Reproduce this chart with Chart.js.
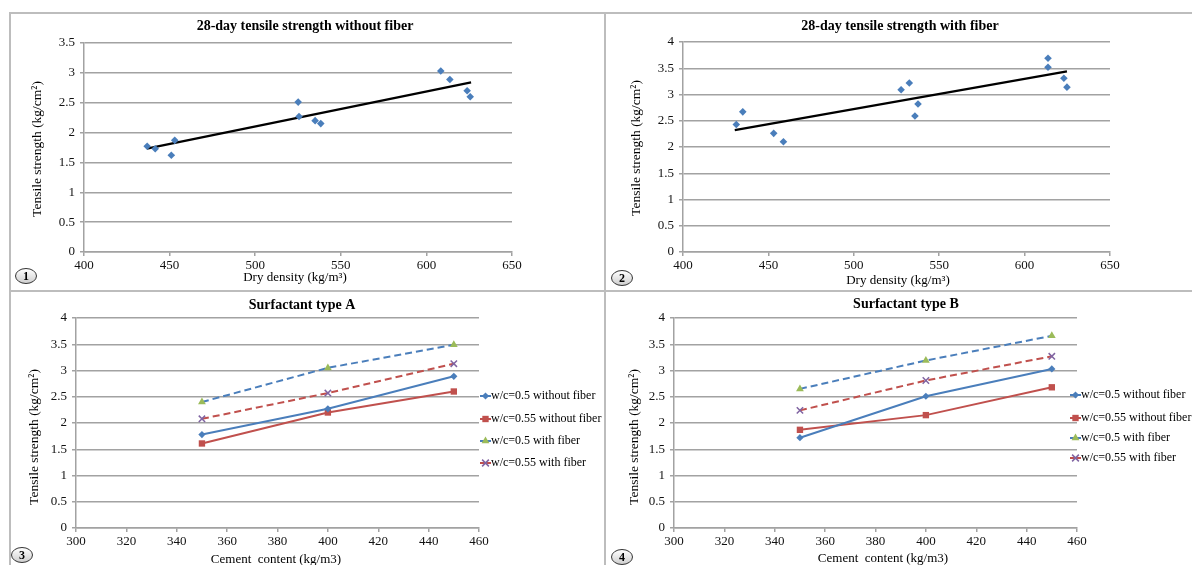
<!DOCTYPE html>
<html>
<head>
<meta charset="utf-8">
<script src="https://cdn.jsdelivr.net/npm/chart.js@4.4.1/dist/chart.umd.min.js"></script>
<style>
  html, body { margin: 0; padding: 0; background: #fff; }
  #page { position: relative; width: 1192px; height: 565px; overflow: hidden; background: #fff; }
  canvas { position: absolute; }
  .rule { position: absolute; background: #bdbdbd; }
</style>
</head>
<body>
<div id="page">
  <canvas id="c1" width="595" height="278" style="left:10px;top:13px"></canvas>
  <canvas id="c2" width="587" height="278" style="left:605px;top:13px"></canvas>
  <canvas id="c3" width="595" height="274" style="left:10px;top:291px"></canvas>
  <canvas id="c4" width="587" height="274" style="left:605px;top:291px"></canvas>
  <div class="rule" style="left:9px;top:12px;width:1183px;height:2px"></div>
  <div class="rule" style="left:9px;top:12px;width:2px;height:553px"></div>
  <div class="rule" style="left:604px;top:12px;width:2px;height:553px"></div>
  <div class="rule" style="left:9px;top:290px;width:1183px;height:2px"></div>
</div>
<script>
// Panels 1-2: 28-day tensile strength vs dry density
const densityNoFiber = [436.9, 441.6, 451.0, 453.0, 525.1, 525.6, 535.0, 538.3, 608.4, 613.7, 623.8, 625.6];
const strengthNoFiber = [1.77, 1.73, 1.62, 1.87, 2.51, 2.27, 2.20, 2.15, 3.03, 2.89, 2.70, 2.60];
const trendNoFiberX = [436.7, 626.1];
const trendNoFiberY = [1.73, 2.84];

const densityFiber = [431.2, 435.0, 453.1, 458.8, 527.7, 532.5, 537.6, 535.8, 613.7, 613.7, 623.0, 624.8];
const strengthFiber = [2.43, 2.67, 2.26, 2.10, 3.09, 3.22, 2.82, 2.59, 3.69, 3.52, 3.31, 3.14];
const trendFiberX = [430.3, 624.8];
const trendFiberY = [2.32, 3.44];

// Panels 3-4: tensile strength vs cement content
const cementContent = [350, 400, 450];
const seriesNames = ['w/c=0.5 without fiber', 'w/c=0.55 without fiber', 'w/c=0.5 with fiber', 'w/c=0.55 with fiber'];
const typeA_05 = [1.78, 2.27, 2.89];
const typeA_055 = [1.61, 2.20, 2.60];
const typeA_05fiber = [2.40, 3.05, 3.49];
const typeA_055fiber = [2.08, 2.57, 3.13];
const typeB_05 = [1.72, 2.51, 3.03];
const typeB_055 = [1.87, 2.15, 2.68];
const typeB_05fiber = [2.65, 3.19, 3.66];
const typeB_055fiber = [2.24, 2.81, 3.27];

// tick labels
const densityTicks = [400, 450, 500, 550, 600, 650];
const cementTicks = [300, 320, 340, 360, 380, 400, 420, 440, 460];
const strengthTicks35 = [0, 0.5, 1, 1.5, 2, 2.5, 3, 3.5];
const strengthTicks4 = [0, 0.5, 1, 1.5, 2, 2.5, 3, 3.5, 4];

const SERIF = "'Liberation Serif', 'Times New Roman', serif";
const BLUE = '#4a7ebb', RED = '#c0504d', GREEN = '#9bbb59', PURPLE = '#8064a2';
const GRID = '#a2a2a2';

const pts = (xs, ys) => xs.map((x, i) => ({ x: x, y: ys[i] }));

function drawMarker(ctx, style, x, y, r, color) {
    ctx.save();
    ctx.fillStyle = color;
    ctx.strokeStyle = color;
    ctx.setLineDash([]);
    ctx.lineWidth = 1.5;
    ctx.beginPath();
    if (style === 'rectRot') {
        ctx.moveTo(x, y - r); ctx.lineTo(x + r, y); ctx.lineTo(x, y + r); ctx.lineTo(x - r, y); ctx.closePath(); ctx.fill();
    } else if (style === 'rect') {
        const s = r * Math.SQRT1_2;
        ctx.rect(x - s, y - s, 2 * s, 2 * s); ctx.fill();
    } else if (style === 'triangle') {
        ctx.moveTo(x, y - r); ctx.lineTo(x + r * 0.87, y + r * 0.5); ctx.lineTo(x - r * 0.87, y + r * 0.5); ctx.closePath(); ctx.fill();
    } else {
        const s = r * 0.75;
        ctx.moveTo(x - s, y - s); ctx.lineTo(x + s, y + s); ctx.moveTo(x + s, y - s); ctx.lineTo(x - s, y + s); ctx.stroke();
    }
    ctx.restore();
}

// titles, axis titles, panel badge and legend
const panelText = {
    id: 'panelText',
    afterDraw(chart, args, o) {
        const ctx = chart.ctx;
        ctx.save();
        ctx.fillStyle = '#000';
        ctx.textAlign = 'center';
        ctx.textBaseline = 'middle';
        ctx.font = 'bold 14px ' + SERIF;
        ctx.fillText(o.title, o.titleX, o.titleY);
        ctx.font = '13px ' + SERIF;
        ctx.fillText(o.xTitle, o.xTitleX, o.xTitleY);
        ctx.save();
        ctx.translate(o.yTitleX, o.yTitleY);
        ctx.rotate(-Math.PI / 2);
        ctx.font = '13.5px ' + SERIF;
        ctx.fillText('Tensile strength (kg/cm\u00b2)', 0, 0);
        ctx.restore();

        // circled panel number
        const g = ctx.createLinearGradient(0, o.badgeY - 7, 0, o.badgeY + 7);
        g.addColorStop(0, '#ffffff');
        g.addColorStop(1, '#cfcfcf');
        ctx.beginPath();
        ctx.ellipse(o.badgeX, o.badgeY, 10.5, 7.5, 0, 0, Math.PI * 2);
        ctx.fillStyle = g;
        ctx.fill();
        ctx.strokeStyle = '#333';
        ctx.lineWidth = 1;
        ctx.stroke();
        ctx.fillStyle = '#000';
        ctx.font = 'bold 12px ' + SERIF;
        ctx.fillText(o.badge, o.badgeX, o.badgeY + 0.5);

        if (o.legend) {
            ctx.textAlign = 'left';
            ctx.font = '12px ' + SERIF;
            chart.data.datasets.forEach((ds, i) => {
                const y = o.legendY[i];
                ctx.beginPath();
                ctx.strokeStyle = ds.borderColor;
                ctx.lineWidth = 2;
                ctx.moveTo(o.legendX, y);
                ctx.lineTo(o.legendX + 11, y);
                ctx.stroke();
                drawMarker(ctx, ds.pointStyle, o.legendX + 5.5, y, ds.pointRadius, ds.pointBackgroundColor);
                ctx.fillStyle = '#000';
                ctx.fillText(ds.label, o.legendX + 11, y);
            });
        }
        ctx.restore();
    }
};

function makeScales(xTicks, yTicks, yWidth, xHeight) {
    const tickFont = { family: SERIF, size: 13 };
    return {
        x: {
            type: 'linear',
            min: xTicks[0],
            max: xTicks[xTicks.length - 1],
            afterBuildTicks: s => { s.ticks = xTicks.map(v => ({ value: v })); },
            afterFit: s => { s.height = xHeight; },
            ticks: { font: tickFont, color: '#111', padding: 2, maxRotation: 0, autoSkip: false },
            grid: { drawOnChartArea: false, drawTicks: true, tickLength: 4, color: GRID, lineWidth: 1.5 },
            border: { display: true, color: GRID, width: 1.5 }
        },
        y: {
            type: 'linear',
            min: yTicks[0],
            max: yTicks[yTicks.length - 1],
            afterBuildTicks: s => { s.ticks = yTicks.map(v => ({ value: v })); },
            afterFit: s => { s.width = yWidth; },
            ticks: { font: tickFont, color: '#111', padding: 5, callback: v => String(v) },
            grid: { color: GRID, lineWidth: 1.5, tickLength: 4 },
            border: { display: true, color: GRID, width: 1.5 }
        }
    };
}

function densityChart(id, xs, ys, tx, ty, yTicks, layout, text) {
    return new Chart(document.getElementById(id), {
        type: 'scatter',
        data: {
            datasets: [
                {
                    label: 'data', data: pts(xs, ys),
                    pointStyle: 'rectRot', pointRadius: 3.8, pointBackgroundColor: BLUE, pointBorderColor: BLUE, pointBorderWidth: 0,
                    showLine: false
                },
                {
                    label: 'trend', data: pts(tx, ty),
                    showLine: true, borderColor: '#000', borderWidth: 2.2, pointRadius: 0
                }
            ]
        },
        options: {
            responsive: false,
            animation: false,
            devicePixelRatio: 1,
            layout: { padding: layout.padding },
            scales: makeScales(densityTicks, yTicks, layout.yWidth, layout.xHeight),
            plugins: { legend: { display: false }, tooltip: { enabled: false }, panelText: text }
        },
        plugins: [panelText]
    });
}

function cementChart(id, s05, s055, s05f, s055f, layout, text) {
    const line = (label, ys, color, style, markerColor, radius, dashed) => ({
        label: label,
        data: pts(cementContent, ys),
        showLine: true,
        borderColor: color,
        borderWidth: 2,
        borderDash: dashed ? [7, 4] : [],
        pointStyle: style,
        pointRadius: radius,
        pointBackgroundColor: markerColor,
        pointBorderColor: markerColor,
        pointBorderWidth: style === 'crossRot' ? 1.5 : 0
    });
    return new Chart(document.getElementById(id), {
        type: 'scatter',
        data: {
            datasets: [
                line(seriesNames[0], s05, BLUE, 'rectRot', BLUE, 3.6, false),
                line(seriesNames[1], s055, RED, 'rect', RED, 4.5, false),
                line(seriesNames[2], s05f, BLUE, 'triangle', GREEN, 4.5, true),
                line(seriesNames[3], s055f, RED, 'crossRot', PURPLE, 4.5, true)
            ]
        },
        options: {
            responsive: false,
            animation: false,
            devicePixelRatio: 1,
            layout: { padding: layout.padding },
            scales: makeScales(cementTicks, strengthTicks4, layout.yWidth, layout.xHeight),
            plugins: { legend: { display: false }, tooltip: { enabled: false }, panelText: text }
        },
        plugins: [panelText]
    });
}

densityChart('c1', densityNoFiber, strengthNoFiber, trendNoFiberX, trendNoFiberY, strengthTicks35,
    { padding: { left: 0, top: 30, right: 93, bottom: 0 }, yWidth: 74, xHeight: 39 },
    { title: '28-day tensile strength without fiber', titleX: 295, titleY: 13,
      xTitle: 'Dry density (kg/m\u00b3)', xTitleX: 285, xTitleY: 265,
      yTitleX: 27, yTitleY: 136, badge: '1', badgeX: 16, badgeY: 263 });

densityChart('c2', densityFiber, strengthFiber, trendFiberX, trendFiberY, strengthTicks4,
    { padding: { left: 0, top: 29, right: 82, bottom: 0 }, yWidth: 78, xHeight: 39 },
    { title: '28-day tensile strength with fiber', titleX: 295, titleY: 13,
      xTitle: 'Dry density (kg/m\u00b3)', xTitleX: 293, xTitleY: 268,
      yTitleX: 31, yTitleY: 135, badge: '2', badgeX: 17, badgeY: 265 });

cementChart('c3', typeA_05, typeA_055, typeA_05fiber, typeA_055fiber,
    { padding: { left: 0, top: 27, right: 126, bottom: 0 }, yWidth: 66, xHeight: 37 },
    { title: 'Surfactant type A', titleX: 292, titleY: 14,
      xTitle: 'Cement  content (kg/m3)', xTitleX: 266, xTitleY: 269,
      yTitleX: 24, yTitleY: 146, badge: '3', badgeX: 12, badgeY: 264,
      legend: true, legendX: 470, legendY: [105, 128, 150, 172] });

cementChart('c4', typeB_05, typeB_055, typeB_05fiber, typeB_055fiber,
    { padding: { left: 0, top: 27, right: 115, bottom: 0 }, yWidth: 69, xHeight: 37 },
    { title: 'Surfactant type B', titleX: 301, titleY: 13,
      xTitle: 'Cement  content (kg/m3)', xTitleX: 278, xTitleY: 268,
      yTitleX: 29, yTitleY: 146, badge: '4', badgeX: 17, badgeY: 266,
      legend: true, legendX: 465, legendY: [104, 127, 147, 167] });
</script>
</body>
</html>
